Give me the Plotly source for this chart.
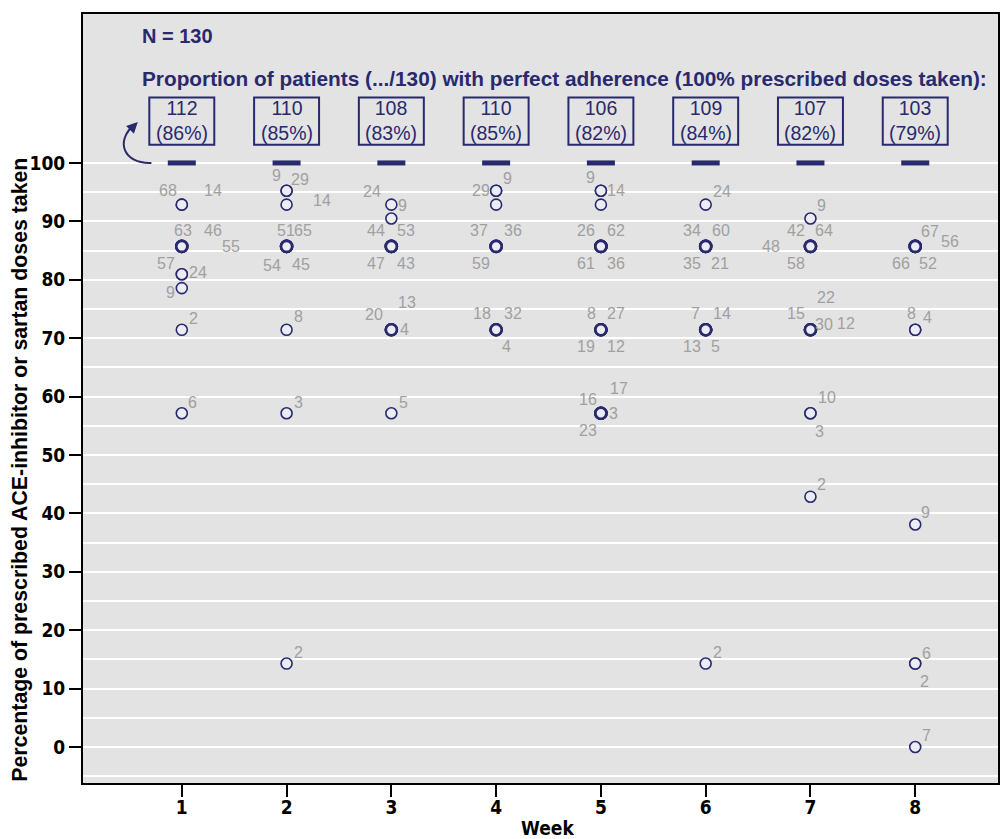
import plotly.graph_objects as go
from collections import Counter

# ---------------- data ----------------
weeks = [1, 2, 3, 4, 5, 6, 7, 8]
perfect_counts = [112, 110, 108, 110, 106, 109, 107, 103]
n_total = 130

# outlying patients per week: (week, % doses taken, case label)
pt_week = [1, 1, 1, 1, 1, 1, 1, 1, 1, 1,
           2, 2, 2, 2, 2, 2, 2, 2, 2, 2,
           3, 3, 3, 3, 3, 3, 3, 3, 3, 3,
           4, 4, 4, 4, 4, 4, 4, 4, 4,
           5, 5, 5, 5, 5, 5, 5, 5, 5, 5, 5, 5, 5, 5, 5,
           6, 6, 6, 6, 6, 6, 6, 6, 6, 6,
           7, 7, 7, 7, 7, 7, 7, 7, 7, 7, 7, 7,
           8, 8, 8, 8, 8, 8, 8, 8, 8, 8]
pt_value = [92.86, 92.86, 85.71, 85.71, 85.71, 80.95, 80.95, 78.57, 71.43, 57.14,
            95.24, 95.24, 92.86, 85.71, 85.71, 85.71, 85.71, 71.43, 57.14, 14.29,
            92.86, 90.48, 85.71, 85.71, 85.71, 85.71, 71.43, 71.43, 71.43, 57.14,
            95.24, 95.24, 92.86, 85.71, 85.71, 85.71, 71.43, 71.43, 71.43,
            95.24, 95.24, 92.86, 85.71, 85.71, 85.71, 85.71, 71.43, 71.43, 71.43, 71.43, 57.14, 57.14, 57.14, 57.14,
            92.86, 85.71, 85.71, 85.71, 85.71, 71.43, 71.43, 71.43, 71.43, 14.29,
            90.48, 85.71, 85.71, 85.71, 85.71, 71.43, 71.43, 71.43, 71.43, 57.14, 57.14, 42.86,
            85.71, 85.71, 85.71, 85.71, 71.43, 71.43, 38.10, 14.29, 14.29, 0.0]
pt_label = ["68", "14", "63", "46", "55", "57", "24", "9", "2", "6",
            "9", "29", "14", "51", "65", "54", "45", "8", "3", "2",
            "24", "9", "44", "53", "47", "43", "20", "13", "4", "5",
            "29", "9", "", "37", "36", "59", "18", "32", "4",
            "9", "14", "", "26", "62", "61", "36", "8", "27", "19", "12", "16", "17", "3", "23",
            "24", "34", "60", "35", "21", "7", "14", "13", "5", "2",
            "9", "42", "64", "48", "58", "15", "22", "30", "12", "10", "3", "2",
            "67", "56", "66", "52", "8", "4", "9", "6", "2", "7"]

# label placement offsets in pixels (right, down)
lab_dx = [-14, 31, 1, 31, 49, -16, 16, -11, 12, 11,
          -10, 13, 35, -1, 16, -15, 14, 12, 12, 12,
          -19, 11, -15, 15, -15, 15, -17, 16, 13, 12,
          -15, 11, 0, -17, 17, -15, -14, 17, 10,
          -10, 15, 0, -15, 15, -15, 15, -9, 15, -15, 15, -13, 18, 13, -13,
          16, -14, 15, -14, 14, -10, 16, -14, 10, 12,
          11, -14, 14, -39, -14, -14, 16, 14, 36, 17, 9, 11,
          15, 35, -14, 13, -4, 12, 10, 11, 9, 11]
lab_dy = [-14, -14, -16, -16, 0, -11, -2, 4, -11, -11,
          -15, -11, -4, -16, -16, 19, 18, -13, -11, -11,
          -13, -13, -16, -16, 17, 17, -15, -27, 0, -11,
          0, -12, 0, -16, -16, 17, -16, -16, 17,
          -13, 0, 0, -16, -16, 17, 17, -16, -16, 17, 17, -14, -25, 0, 17,
          -13, -16, -16, 17, 17, -16, -16, 17, 17, -11,
          -13, -16, -16, 0, 17, -16, -32, -5, -6, -16, 18, -12,
          -15, -5, 17, 17, -16, -12, -12, -10, 18, -12]

NAVY = "#29296e"
GREY = "#a0a0a0"
TICKFONT = "DejaVu Sans Condensed, Liberation Sans Narrow, Arial Narrow, sans-serif"
TEXTFONT = "Liberation Sans, Arial, sans-serif"

fig = go.Figure()

# 100% adherence markers
fig.add_trace(go.Scatter(
    x=weeks, y=[100] * len(weeks), mode="markers",
    marker=dict(symbol="line-ew", size=20, line=dict(color=NAVY, width=5)),
    hoverinfo="skip", showlegend=False))

# outlier circles (thicker outline where several patients overlap)
cnt = Counter(zip(pt_week, pt_value))
lw = [2.6 if cnt[(w, v)] >= 3 else 1.6 for w, v in zip(pt_week, pt_value)]
fig.add_trace(go.Scatter(
    x=pt_week, y=pt_value, mode="markers",
    marker=dict(symbol="circle", size=11, color="#ececf5",
                line=dict(color=NAVY, width=lw)),
    showlegend=False))

annotations = []
for w, v, t, dx, dy in zip(pt_week, pt_value, pt_label, lab_dx, lab_dy):
    if t:
        annotations.append(dict(x=w, y=v, text=t, showarrow=False,
                                xshift=dx, yshift=-dy,
                                font=dict(family=TEXTFONT, size=16, color=GREY)))

shapes = []
for w, n in zip(weeks, perfect_counts):
    pct = round(n / n_total * 100)
    shapes.append(dict(type="rect", xref="x", yref="y",
                       x0=w - 0.31, x1=w + 0.31, y0=103.1, y1=111.2,
                       line=dict(color=NAVY, width=2), fillcolor="rgba(0,0,0,0)"))
    annotations.append(dict(x=w, y=107.3, text=f"{n}<br>({pct}%)", showarrow=False,
                            yanchor="middle",
                            font=dict(family=TEXTFONT, size=19.5, color=NAVY)))

# curved arrow
shapes.append(dict(type="path", xref="x", yref="y",
                   path="M 0.71,100 C 0.44,99.8 0.36,103.8 0.55,106.6",
                   line=dict(color=NAVY, width=2)))
annotations.append(dict(x=0.58, y=107.0, ax=-7, ay=7, xref="x", yref="y",
                        text="", showarrow=True, arrowhead=2, arrowsize=1.1,
                        arrowwidth=2, arrowcolor=NAVY))

annotations.append(dict(x=0.60, y=121.7, xanchor="left", text="<b>N = 130</b>",
                        showarrow=False,
                        font=dict(family=TEXTFONT, size=20, color=NAVY)))
annotations.append(dict(x=0.60, y=114.4, xanchor="left",
                        text="<b>Proportion of patients (.../130) with perfect adherence (100% prescribed doses taken):</b>",
                        showarrow=False,
                        font=dict(family=TEXTFONT, size=20.8, color=NAVY)))

# axis titles
annotations.append(dict(xref="paper", x=-0.0698, xanchor="center", yref="y", y=47.5,
                        yanchor="middle", textangle=-90,
                        text="<b>Percentage of prescribed ACE-inhibitor or sartan doses taken</b>",
                        showarrow=False, font=dict(family=TEXTFONT, size=21.3, color="black")))
annotations.append(dict(xref="x", x=4.49, yref="paper", y=-0.0585, yanchor="middle",
                        text="<b>Week</b>", showarrow=False,
                        font=dict(family=TICKFONT, size=19, color="black")))

fig.update_layout(
    width=1004, height=839,
    margin=dict(l=83, r=4, t=14, b=56),
    paper_bgcolor="white", plot_bgcolor="#e3e3e3",
    shapes=shapes, annotations=annotations, showlegend=False,
)
fig.update_xaxes(range=[0.057, 8.79], tickmode="array", tickvals=weeks,
                 ticktext=[f"<b>{w}</b>" for w in weeks],
                 showgrid=False, zeroline=False,
                 showline=True, mirror=True, linecolor="black", linewidth=2,
                 ticks="outside", ticklen=12, tickwidth=2, tickcolor="black",
                 ticklabelstandoff=-6,
                 tickfont=dict(family=TICKFONT, size=19, color="black"))
fig.update_yaxes(range=[-6.16, 125.5], tickmode="array",
                 tickvals=list(range(0, 101, 10)),
                 ticktext=[f"<b>{v}</b>" for v in range(0, 101, 10)],
                 showgrid=True, gridcolor="white", gridwidth=2, zeroline=False,
                 minor=dict(tickmode="array", tickvals=list(range(-5, 100, 10)),
                            showgrid=True, gridcolor="white", gridwidth=2, ticks=""),
                 showline=True, mirror=True, linecolor="black", linewidth=2,
                 ticks="outside", ticklen=12, tickwidth=2, tickcolor="black",
                 tickfont=dict(family=TICKFONT, size=19, color="black"))

fig.write_html("out.html", post_script="document.body.style.margin='0';",
               config={"displayModeBar": False})
